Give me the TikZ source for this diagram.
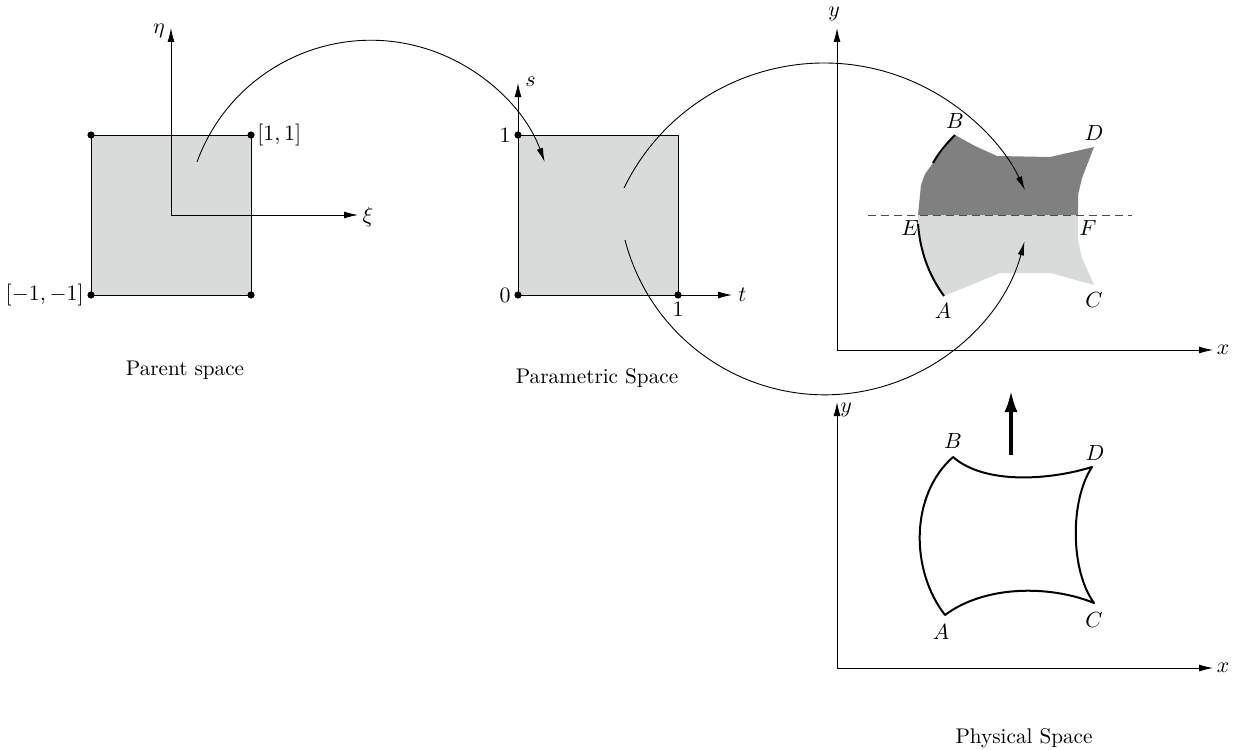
\documentclass[tikz,border=0pt]{standalone}
\usetikzlibrary{arrows.meta}
\definecolor{lgray}{RGB}{217,219,219}
\definecolor{dgray}{RGB}{128,128,128}
\begin{document}
\begin{tikzpicture}[x=0.5pt,y=-0.5pt,
  every node/.style={font=\fontsize{10.6pt}{12.7pt}\selectfont},
  axis/.style={line width=0.45pt,-{Latex[length=7pt,width=3.5pt]}},
  conn/.style={line width=0.45pt,-{Latex[length=7pt,width=3.2pt]}},
  sq/.style={fill=lgray,draw=black,line width=0.45pt},
  dotn/.style={circle,fill=black,inner sep=0pt,minimum size=3.6pt},
  lbl/.style={inner sep=1pt},
  shapeline/.style={line width=1pt,line join=round}]
\useasboundingbox (0,0) rectangle (1234,749);

% ---------- Parent space ----------
\draw[sq] (91,135) rectangle (251,295);
\coordinate (po) at (171,215);
\coordinate (peta) at (171,28);
\coordinate (pxi) at (358,215);
\draw[axis] (po) -- (peta);
\draw[axis] (po) -- (pxi);
\node[dotn] (p11) at (251,135) {};
\node[dotn] (pm1) at (91,135) {};
\node[dotn] (pmm) at (91,295) {};
\node[dotn] (p1m) at (251,295) {};
\node[lbl,anchor=west] (l11) at (255,135) {$[1,1]$};
\node[lbl,anchor=east] (lmm) at (86,295) {$[-1,-1]$};
\node[lbl] (leta) at (159,31) {$\eta$};
\node[lbl] (lxi) at (368,217) {$\xi$};
\node[lbl] (tparent) at (185,370) {Parent space};

% ---------- Parametric space ----------
\draw[sq] (518,135) rectangle (678,295);
\coordinate (qo) at (518,295);
\coordinate (qs) at (518,83);
\coordinate (qt) at (732,295);
\draw[axis] (qo) -- (qs);
\draw[axis] (qo) -- (qt);
\node[dotn] (q01) at (518,135) {};
\node[dotn] (q00) at (518,295) {};
\node[dotn] (q10) at (678,295) {};
\node[lbl,anchor=east] (l1s) at (513,135) {$1$};
\node[lbl,anchor=east] (l0) at (513,295) {$0$};
\node[lbl,anchor=north] (l1t) at (678,300) {$1$};
\node[lbl,anchor=west] (ls) at (523,82) {$s$};
\node[lbl,anchor=west] (lt) at (736,295) {$t$};
\node[lbl] (tparam) at (597,378) {Parametric Space};

% ---------- Upper physical axes ----------
\coordinate (uo) at (837,350);
\coordinate (uy) at (837,28);
\coordinate (ux) at (1213,350);
\draw[axis] (uo) -- (uy);
\draw[axis] (uo) -- (ux);
\node[lbl] (luy) at (834,14) {$y$};
\node[lbl] (lux) at (1223,350) {$x$};

% upper split shape
\fill[dgray] (918,215) -- (921,185) -- (925,174) -- (933,163) -- (955,135)
  -- (975,146) -- (997,156) -- (1050,157) -- (1094,147) -- (1082,178) -- (1078,195) -- (1078,215) -- cycle;
\fill[lgray] (918,215) .. controls (917,240) and (926,270) .. (944,296)
  -- (1000,273) -- (1050,273) -- (1094,285) -- (1082,258) -- (1078,240) -- (1078,215) -- cycle;
\draw[shapeline] (955,135) .. controls (945,145) and (938,154) .. (933,163);
\draw[shapeline] (918,224) .. controls (920,250) and (928,274) .. (944,296);
\draw[dash pattern=on 4pt off 2.5pt, line width=0.5pt, black!70] (868,215) -- (1132,215);
\node[lbl] (uB) at (955,121) {$B$};
\node[lbl] (uD) at (1094,133) {$D$};
\node[lbl] (uA) at (943,311) {$A$};
\node[lbl] (uC) at (1094,300) {$C$};
\node[lbl] (uE) at (910,228) {$E$};
\node[lbl] (uF) at (1088,228) {$F$};

% ---------- Lower physical axes ----------
\coordinate (lo) at (837,668);
\coordinate (ly) at (837,402);
\coordinate (lx) at (1213,668);
\draw[axis] (lo) -- (ly);
\draw[axis] (lo) -- (lx);
\node[lbl] (lly) at (846,410) {$y$};
\node[lbl] (llx) at (1223,668) {$x$};

\coordinate (A) at (945,615);
\coordinate (B) at (953,457);
\coordinate (D) at (1092,467);
\coordinate (C) at (1094,603);
\draw[shapeline] (A) .. controls (910,570) and (910,495) .. (B)
  .. controls (985,485) and (1050,480) .. (D)
  .. controls (1070,500) and (1070,570) .. (C)
  .. controls (1050,585) and (985,585) .. (A) -- cycle;
\node[lbl] (lB) at (953,441) {$B$};
\node[lbl] (lD) at (1095,453) {$D$};
\node[lbl] (lA) at (941,632) {$A$};
\node[lbl] (lC) at (1094,620) {$C$};
\node[lbl] (tphys) at (1024,738) {Physical Space};

% thick arrow
\coordinate (ta) at (1011,455);
\coordinate (tb) at (1011,390);
\draw[line width=2pt,-{Latex[length=11pt,width=6.5pt]}] (ta) -- (tb);

% ---------- Mapping arcs ----------
\coordinate (a1s) at (197,162);
\draw[conn] (a1s) arc[start angle=-160, end angle=-20, radius=185];
\coordinate (a2s) at (624,188);
\draw[conn] (a2s) arc[start angle=-154, end angle=-25.4, radius=222.5];
\coordinate (a3s) at (625,240);
\draw[conn] (a3s) arc[start angle=165.5, end angle=14.9, radius=206.5];
\end{tikzpicture}
\end{document}
